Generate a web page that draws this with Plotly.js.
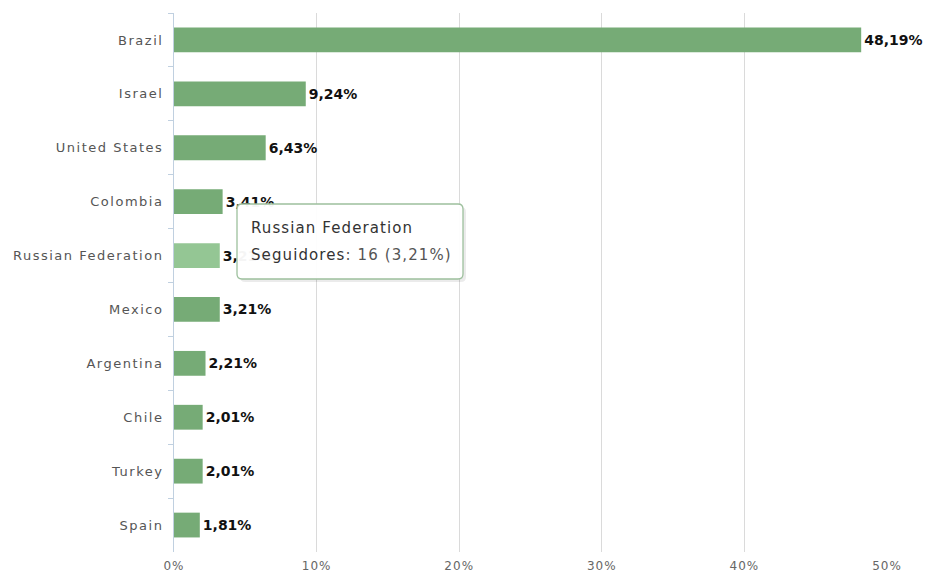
<!DOCTYPE html>
<html>
<head>
<meta charset="utf-8">
<script src="https://cdn.plot.ly/plotly-3.0.1.min.js"></script>
<style>
html,body{margin:0;padding:0;background:#fff;}
#chart{width:927px;height:577px;}
#chart .ytick text{letter-spacing:1.5px !important;}
#chart .xtick text{letter-spacing:1px !important;}
#chart .annotation-text{letter-spacing:1.1px !important;}
</style>
</head>
<body>
<div id="chart"></div>
<script>
const categories = ["Brazil","Israel","United States","Colombia","Russian Federation","Mexico","Argentina","Chile","Turkey","Spain"];
const values = [48.19, 9.24, 6.43, 3.41, 3.21, 3.21, 2.21, 2.01, 2.01, 1.81];
const followers = {"Russian Federation": 16};
const xTicks = [0, 10, 20, 30, 40, 50];
const hovered = "Russian Federation";

const fmt = v => v.toFixed(2).replace('.', ',') + '%';
const colors = categories.map(c => c === hovered ? '#94c694' : '#76ab76');

const W = 927, H = 577;
const m = {l: 174, r: 40, t: 13, b: 25};
const pw = W - m.l - m.r, ph = H - m.t - m.b;
const px = x => (x - m.l) / pw;
const py = y => 1 - (y - m.t) / ph;

function roundRect(x0, y0, x1, y1, r) {
  const P = (x, y) => px(x) + ',' + py(y);
  return 'M' + P(x0 + r, y0) + ' L' + P(x1 - r, y0) + ' Q' + P(x1, y0) + ' ' + P(x1, y0 + r) +
    ' L' + P(x1, y1 - r) + ' Q' + P(x1, y1) + ' ' + P(x1 - r, y1) +
    ' L' + P(x0 + r, y1) + ' Q' + P(x0, y1) + ' ' + P(x0, y1 - r) +
    ' L' + P(x0, y0 + r) + ' Q' + P(x0, y0) + ' ' + P(x0 + r, y0) + ' Z';
}

const trace = {
  type: 'bar',
  orientation: 'h',
  y: categories,
  x: values,
  text: values.map(fmt),
  textposition: 'outside',
  cliponaxis: false,
  textfont: {family: 'DejaVu Sans', size: 14, color: '#111', weight: 'bold'},
  marker: {color: colors},
  hoverinfo: 'none'
};

const hv = values[categories.indexOf(hovered)];
const layout = {
  width: W, height: H,
  margin: m,
  paper_bgcolor: '#fff', plot_bgcolor: '#fff',
  showlegend: false,
  bargap: 0.54,
  xaxis: {
    range: [0, 50], tickvals: xTicks, ticktext: xTicks.map(t => t + '%'),
    showgrid: true, gridcolor: '#dadada', gridwidth: 1,
    zeroline: false, showline: false, ticks: '',
    tickfont: {family: 'DejaVu Sans', size: 12, color: '#666'},
    ticklabelstandoff: 5
  },
  yaxis: {
    autorange: 'reversed', type: 'category',
    showline: true, linecolor: '#c0d0e0', linewidth: 1,
    ticks: 'outside', tickson: 'boundaries', ticklen: 5, tickcolor: '#c0d0e0',
    showgrid: false, zeroline: false,
    tickfont: {family: 'DejaVu Sans', size: 13, color: '#555'},
    ticklabelstandoff: 7
  },
  shapes: [
    {type: 'path', xref: 'paper', yref: 'paper', path: roundRect(240, 207, 466, 282, 5),
     fillcolor: 'rgba(0,0,0,0.08)', line: {width: 0}, layer: 'above'},
    {type: 'path', xref: 'paper', yref: 'paper', path: roundRect(237, 204, 463, 279, 5),
     fillcolor: 'rgba(255,255,255,0.96)', line: {color: '#9dc09d', width: 1.3}, layer: 'above'}
  ],
  annotations: [
    {xref: 'paper', yref: 'paper', x: px(249), y: py(228), xanchor: 'left', yanchor: 'middle',
     text: hovered, showarrow: false, align: 'left',
     font: {family: 'DejaVu Sans', size: 15, color: '#333'}},
    {xref: 'paper', yref: 'paper', x: px(249), y: py(255), xanchor: 'left', yanchor: 'middle',
     text: '<span style="color:#333">Seguidores</span>: ' + followers[hovered] + ' (' + fmt(hv) + ')',
     showarrow: false, align: 'left',
     font: {family: 'DejaVu Sans', size: 15, color: '#555'}}
  ]
};

Plotly.newPlot('chart', [trace], layout, {displayModeBar: false, staticPlot: true});
</script>
</body>
</html>
